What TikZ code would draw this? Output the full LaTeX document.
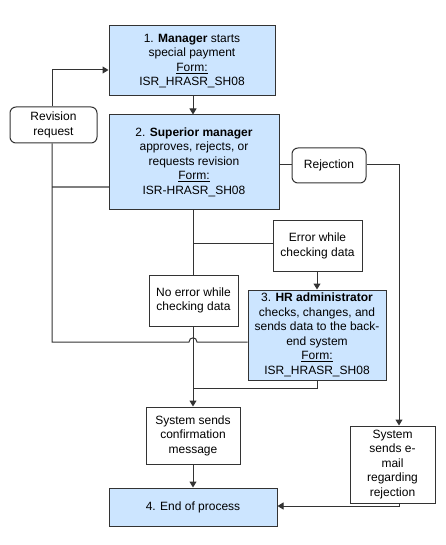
\documentclass[tikz,border=0pt]{standalone}
\usepackage{fontspec}
\setmainfont{Liberation Sans}
\usetikzlibrary{arrows.meta,calc}
\definecolor{boxblue}{HTML}{CCE5FF}
\definecolor{linedark}{HTML}{333333}
\definecolor{linegray}{HTML}{7F7F7F}
\begin{document}
\begin{tikzpicture}[x=1pt,y=-1pt,
  every node/.style={font=\fontsize{12}{14.5}\selectfont, align=center, inner sep=0pt},
  procbox/.style={draw=linedark, line width=1pt, fill=boxblue},
  plainbox/.style={draw=linedark, line width=1pt, fill=white},
  roundbox/.style={draw=linedark, line width=1pt, fill=white, rounded corners=6pt},
  conn/.style={draw=linedark, line width=1pt},
  grayconn/.style={draw=linegray, line width=1.3pt},
  arr/.style={conn, -{Triangle[length=6pt,width=7pt]}}]
\useasboundingbox (0,0) rectangle (446,545);
\node[procbox, minimum width=166pt, minimum height=70pt] (b1) at (192,61)
  {1. \textbf{Manager} starts\\special payment\\\underline{Form:}\\ISR\_HRASR\_SH08};
\node[procbox, minimum width=170pt, minimum height=94pt] (b2) at (194,162)
  {2. \textbf{Superior manager}\\approves, rejects, or\\requests revision\\\underline{Form:}\\ISR-HRASR\_SH08};
\node[roundbox, minimum width=87pt, minimum height=36pt] (rev) at (53.5,125) {Revision\\request};
\node[roundbox, minimum width=74pt, minimum height=35pt] (rej) at (329,165.5) {Rejection};
\node[plainbox, minimum width=89pt, minimum height=51pt] (err) at (317.5,246) {Error while\\checking data};
\node[plainbox, minimum width=89pt, minimum height=51pt] (noerr) at (193.5,300.5) {No error while\\checking data};
\node[procbox, minimum width=138pt, minimum height=90pt] (b3) at (317,335)
  {3. \textbf{HR administrator}\\checks, changes, and\\sends data to the back-\\end system\\\underline{Form:}\\ISR\_HRASR\_SH08};
\node[plainbox, minimum width=94pt, minimum height=57pt] (conf) at (193,435.5) {System sends\\confirmation\\message};
\node[procbox, minimum width=168pt, minimum height=38pt] (end) at (193,507) {4. End of process};
\node[plainbox, minimum width=85pt, minimum height=77pt] (mail) at (392.5,464.5) {System\\sends e-\\mail\\regarding\\rejection};

\coordinate (revtop) at (52,70);
\coordinate (revcorner) at (52,342);
\coordinate (hopL) at (189,342);
\coordinate (hopR) at (197,342);
\coordinate (errjoin) at (193,243);
\coordinate (b3join) at (193,388);
\coordinate (b3corner) at (317,388);
\coordinate (rejcorner) at (399,165);
\coordinate (mailcorner) at (399,506);

% 1 -> 2
\draw[arr] (b1.south -| 193,0) -- (b2.north -| 193,0);
% revision loop
\draw[arr] (rev.north -| revtop) -- (revtop) -- (b1.west |- revtop);
\draw[grayconn] (b2.west |- 0,187) -- (52,187);
\draw[conn] (rev.south -| revcorner) -- (revcorner) -- (hopL)
  .. controls (189,336.5) and (197,336.5) .. (hopR) -- (b3.west |- revcorner);
% 2 -> checks
\draw[conn] (b2.south -| 193,0) -- (noerr.north -| 193,0);
\draw[conn] (errjoin) -- (err.west |- errjoin);
\draw[arr] (err.south -| 317,0) -- (b3.north -| 317,0);
% no error -> confirmation
\draw[arr] (noerr.south -| 193,0) -- (conf.north -| 193,0);
\draw[conn] (b3.south -| b3corner) -- (b3corner) -- (b3join);
\draw[arr] (conf.south -| 193,0) -- (end.north -| 193,0);
% rejection
\draw[conn] (b2.east |- rejcorner) -- (rej.west |- rejcorner);
\draw[arr] (rej.east |- rejcorner) -- (rejcorner) -- (mail.north -| rejcorner);
\draw[arr] (mail.south -| mailcorner) -- (mailcorner) -- (end.east |- mailcorner);
\end{tikzpicture}
\end{document}
